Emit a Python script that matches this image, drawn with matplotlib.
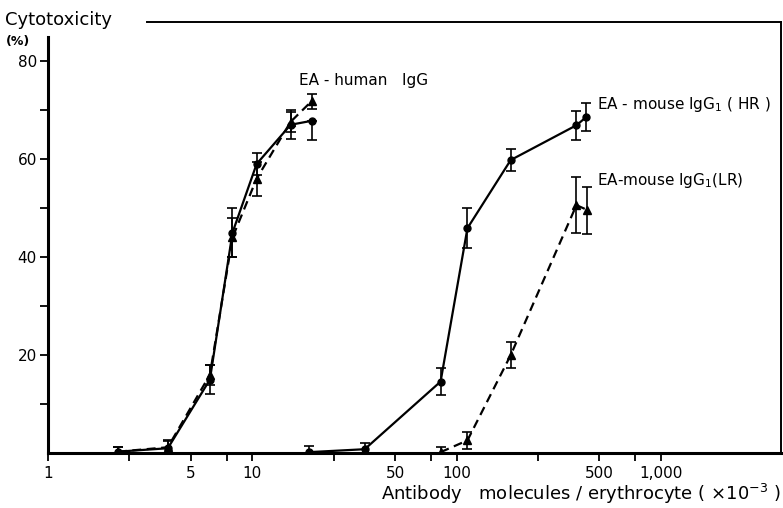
import numpy as np
import matplotlib.pyplot as plt
from matplotlib.ticker import FixedLocator, NullFormatter, NullLocator

# antibody molecules per erythrocyte (x10^-3) and % cytotoxicity
x_human = [2.2, 3.86, 6.2, 8.0, 10.5, 15.4, 19.5]
y_human_ig_c = [0.3, 1.0, 15.0, 45.0, 59.0, 67.0, 67.8]
e_human_ig_c_lo = [1.0, 1.5, 3.0, 5.0, 2.2, 3.0, 4.0]
e_human_ig_c_hi = [1.0, 1.5, 3.0, 5.0, 2.2, 3.0, 0.0]
y_human_ig_t = [0.3, 1.2, 16.0, 44.0, 56.0, 67.6, 71.8]
e_human_ig_t = [1.0, 1.5, 2.0, 4.0, 3.5, 2.0, 1.5]

x_hr = [18.9, 35.5, 83.5, 113, 184, 386, 432]
y_hr = [0.2, 0.8, 14.6, 45.9, 59.8, 66.9, 68.6]
e_hr = [1.2, 1.2, 2.8, 4.1, 2.2, 3.0, 2.8]

x_lr = [83.5, 113, 184, 386, 437]
y_lr = [0.2, 2.6, 20.0, 50.6, 49.6]
e_lr = [1.0, 1.8, 2.7, 5.7, 4.8]

xticks = [1, 2.5, 5, 7.5, 10, 25, 50, 75, 100, 250, 500, 750, 1000]
xlabels = {1: "1", 5: "5", 10: "10", 50: "50", 100: "100", 500: "500", 1000: "1,000"}

plt.rcParams['font.family'] = ['DejaVu Sans']

fig = plt.figure(figsize=(7.83, 5.08), dpi=100)
ax = fig.add_axes([0.0613, 0.108, 0.9361, 0.849])

ebkw = dict(color='black', capsize=3.5, elinewidth=1.2, capthick=1.2)

ax.errorbar(x_human, y_human_ig_c, yerr=[e_human_ig_c_lo, e_human_ig_c_hi],
            fmt='-o', ms=5, lw=1.6, **ebkw)
ax.errorbar(x_human, y_human_ig_t, yerr=e_human_ig_t,
            fmt='--^', ms=6, lw=1.6, dashes=(4, 2.5), **ebkw)
ax.errorbar(x_hr, y_hr, yerr=e_hr, fmt='-o', ms=5, lw=1.6, **ebkw)
ax.errorbar(x_lr, y_lr, yerr=e_lr, fmt='--^', ms=6, lw=1.6, dashes=(4, 2.5), **ebkw)

ax.set_xscale('log')
ax.set_xlim(1, 3870)
ax.set_ylim(0, 88)

ax.xaxis.set_major_locator(FixedLocator(xticks))
ax.xaxis.set_minor_locator(NullLocator())
ax.xaxis.set_minor_formatter(NullFormatter())
ax.set_xticklabels([xlabels.get(t, "") for t in xticks])
ax.set_yticks([20, 40, 60, 80])
ax.set_yticks([10, 30, 50, 70], minor=True)

ax.tick_params(axis='x', which='major', direction='out', length=6, width=1.3,
               labelsize=11, pad=3)
ax.tick_params(axis='y', which='both', direction='out', length=6, width=1.3,
               labelsize=11, pad=2)

for s in ['left', 'bottom']:
    ax.spines[s].set_linewidth(2.2)
for s in ['right', 'top']:
    ax.spines[s].set_linewidth(1.4)
ax.spines['left'].set_bounds(0, 85)
ax.spines['top'].set_bounds(3.05, 3870)

fig.text(0.006, 0.96, "Cytotoxicity", fontsize=13, va='center', ha='left')
fig.text(0.008, 0.918, "(%)", fontsize=9, va='center', ha='left', weight='bold')

ax.text(17.0, 76.0, "EA - human   IgG", fontsize=11, va='center')
ax.text(487, 71.2, "EA - mouse IgG$_1$ ( HR )", fontsize=11, va='center')
ax.text(487, 55.7, "EA-mouse IgG$_1$(LR)", fontsize=11, va='center')

fig.text(0.997, 0.027, "Antibody   molecules / erythrocyte ( $\\times$10$^{-3}$ )",
         fontsize=13, ha='right', va='center')

fig.savefig("out.png", dpi=100)
